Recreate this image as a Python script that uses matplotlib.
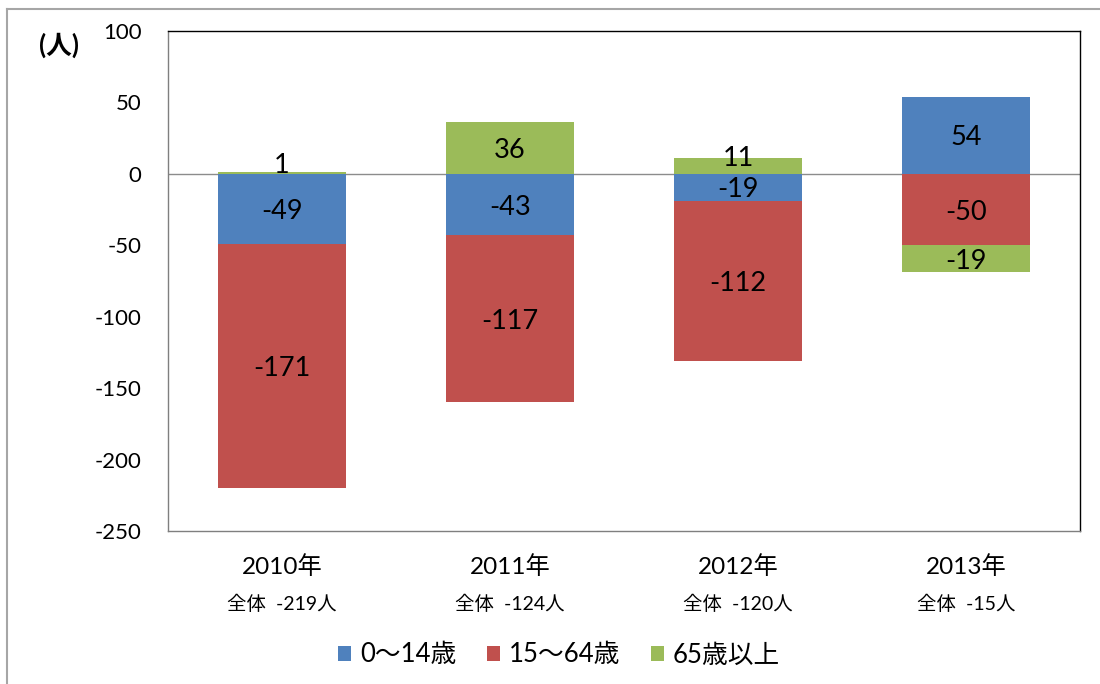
import matplotlib
matplotlib.use("Agg")
import matplotlib.pyplot as plt
import numpy as np
from matplotlib.lines import Line2D
from matplotlib.transforms import blended_transform_factory

plt.rcParams["font.family"] = ["Lato", "Noto Sans CJK JP", "DejaVu Sans"]
plt.rcParams["axes.unicode_minus"] = False

YEARS = ["2010年", "2011年", "2012年", "2013年"]
TOTALS = ["全体  -219人", "全体  -124人", "全体  -120人", "全体  -15人"]
SERIES_NAMES = ["0～14歳", "15～64歳", "65歳以上"]
AGE_0_14 = [-49, -43, -19, 54]
AGE_15_64 = [-171, -117, -112, -50]
AGE_65_PLUS = [1, 36, 11, -19]
COLORS = ["#4F81BD", "#C0504D", "#9BBB59"]

fig = plt.figure(figsize=(11, 6.84), dpi=100)
ax = fig.add_axes([168 / 1100, 1 - 531 / 684, (1080 - 168) / 1100, (531 - 31) / 684])

x = np.arange(len(YEARS))
pos_base = np.zeros(len(YEARS))
neg_base = np.zeros(len(YEARS))
handles = []
for name, values, color in zip(SERIES_NAMES, [AGE_0_14, AGE_15_64, AGE_65_PLUS], COLORS):
    values = np.array(values, dtype=float)
    bottom = np.where(values >= 0, pos_base, neg_base)
    bars = ax.bar(x, values, 0.565, bottom=bottom, color=color, label=name, zorder=2)
    handles.append(bars)
    for xi, b, v in zip(x, bottom, values):
        # thin positive segments: label sits a bit higher, like Excel does
        dy = 7 if 0 < v < 15 else 0
        ax.annotate(f"{int(v)}", (xi, b + v / 2), xytext=(0, dy), textcoords="offset points",
                    ha="center", va="center_baseline", fontsize=19.5, color="black", zorder=3)
    pos_base += np.where(values >= 0, values, 0)
    neg_base += np.where(values < 0, values, 0)

ax.axhline(0, color="#8C8C8C", linewidth=1, zorder=1)
ax.set_xlim(-0.5, len(YEARS) - 0.5)
ax.set_ylim(-250, 100)
ax.set_yticks(np.arange(-250, 101, 50))
ax.tick_params(axis="y", length=0, pad=19, labelsize=16)
ax.set_xticks([])

for side in ("left", "bottom"):
    ax.spines[side].set_color("#7F7F7F")
for side in ("top", "right"):
    ax.spines[side].set_color("black")
for s in ax.spines.values():
    s.set_linewidth(1)

trans = blended_transform_factory(ax.transData, fig.transFigure)
for xi, year, total in zip(x, YEARS, TOTALS):
    ax.text(xi, 1 - 567 / 684, year, transform=trans, ha="center", va="center", fontsize=17.5)
    ax.text(xi, 1 - 604 / 684, total, transform=trans, ha="center", va="center", fontsize=14)

fig.text(59 / 1100, 1 - 45 / 684, "(人)", ha="center", va="center", fontsize=18.5, fontweight="bold")

fig.legend(handles=handles, labels=SERIES_NAMES, loc="center",
           bbox_to_anchor=(559 / 1100, 1 - 655 / 684), ncol=3, frameon=False,
           fontsize=18.5, handlelength=0.5, handleheight=0.5, handletextpad=0.35,
           columnspacing=1.2)

# outer chart border (only left and top edges are inside the picture)
fig.add_artist(Line2D([7 / 1100, 7 / 1100], [0, 1 - 9 / 684], transform=fig.transFigure,
                      color="#A6A6A6", linewidth=1.5))
fig.add_artist(Line2D([7 / 1100, 1], [1 - 9 / 684, 1 - 9 / 684], transform=fig.transFigure,
                      color="#A6A6A6", linewidth=1.5))

fig.savefig("out.png", dpi=100)
